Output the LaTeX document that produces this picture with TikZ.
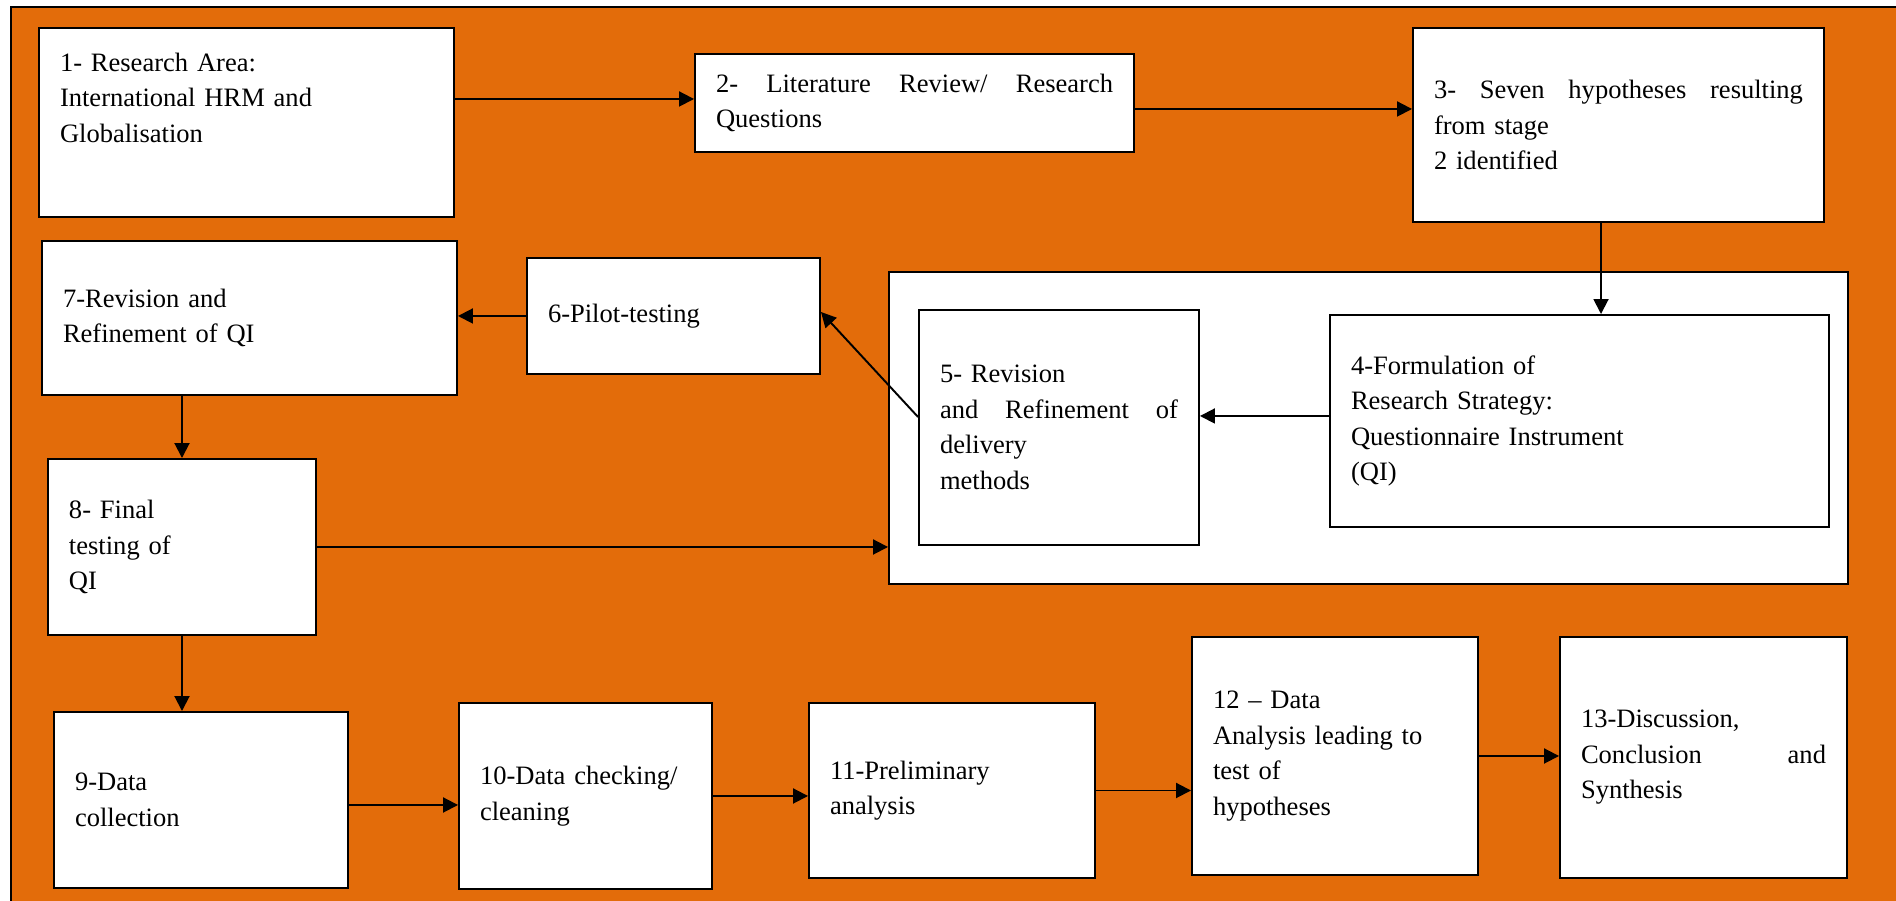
\documentclass[tikz,border=0pt]{standalone}
\usepackage{fontspec}
\setmainfont{Liberation Serif}
\usetikzlibrary{arrows.meta}
\definecolor{stageorange}{HTML}{E36C0A}
\tikzset{
  stage/.style={draw, fill=white, line width=1.1pt, inner xsep=0.42cm, inner ysep=0.1cm,
    align=left, font=\rmfamily\fontsize{15.1}{20.2}\selectfont},
  flow/.style={-{Triangle[length=0.3cm,width=0.3cm]}, line width=1.1pt}
}
\begin{document}
\begin{tikzpicture}
\useasboundingbox (0,0) rectangle (37.92,18.02);
\fill[stageorange] (0.22,0) rectangle (37.92,17.88);
\draw[line width=1.2pt] (0.22,0) -- (0.22,17.88) -- (37.92,17.88);

% top row
\node[stage, text width=7.46cm, minimum height=3.78cm] (n1) at (4.93,15.57)
  {1- Research Area:\\International HRM and\\Globalisation\\[0.29cm]\mbox{}};
\node[stage, text width=7.94cm, minimum height=1.96cm] (n2) at (18.29,15.96)
  {2-\hfill Literature\hfill Review/\hfill Research\\Questions};
\node[stage, text width=7.38cm, minimum height=3.88cm] (n3) at (32.37,15.52)
  {3-\hfill Seven\hfill hypotheses\hfill resulting\\from stage\\2 identified};

% research strategy block
\node[draw, fill=white, line width=1.1pt, minimum width=19.18cm, minimum height=6.24cm] (strategy) at (27.37,9.46) {};
\node[stage, text width=9.14cm, minimum height=4.24cm] (n4) at (31.59,9.60)
  {4-Formulation of\\Research Strategy:\\Questionnaire Instrument\\(QI)};
\node[stage, text width=4.76cm, minimum height=4.70cm] (n5) at (21.18,9.47)
  {5- Revision\\and\hfill Refinement\hfill of\\delivery\\methods};
\node[stage, text width=5.02cm, minimum height=2.32cm] (n6) at (13.47,11.70)
  {6-Pilot-testing};
\node[stage, text width=7.46cm, minimum height=3.08cm] (n7) at (4.99,11.66)
  {7-Revision and\\Refinement of QI};
\node[stage, text width=4.52cm, minimum height=3.52cm] (n8) at (3.64,7.08)
  {8- Final\\testing of\\QI};

% bottom row
\node[stage, text width=5.04cm, minimum height=3.52cm] (n9) at (4.02,2.02)
  {9-Data\\collection};
\node[stage, text width=4.22cm, minimum height=3.72cm] (n10) at (11.71,2.10)
  {10-Data checking/\\cleaning};
\node[stage, text width=4.88cm, minimum height=3.50cm] (n11) at (19.04,2.21)
  {11-Preliminary\\analysis};
\node[stage, text width=4.88cm, minimum height=4.76cm] (n12) at (26.70,2.90)
  {12 – Data\\Analysis leading to\\test of\\hypotheses};
\node[stage, text width=4.90cm, minimum height=4.82cm] (n13) at (34.07,2.87)
  {13-Discussion,\\Conclusion\hfill and\\Synthesis};

% connectors
\coordinate (a12) at ([yshift=0.08cm]n2.west);
\draw[flow] (a12 -| n1.east) -- (a12);
\coordinate (a23) at ([yshift=-0.12cm]n2.east);
\draw[flow] (a23) -- (a23 -| n3.west);
\coordinate (a34) at ([xshift=-0.35cm]n3.south);
\draw[flow] (a34) -- (a34 |- n4.north);
\coordinate (a45) at ([yshift=0.1cm]n4.west);
\draw[flow] (a45) -- (a45 -| n5.east);
\draw[flow] ([yshift=0.21cm]n5.west) -- ([yshift=0.08cm]n6.east);
\draw[flow] (n6.west) -- (n6.west -| n7.east);
\draw[flow] (n8.north |- n7.south) -- (n8.north);
\draw[flow] (n8.east) -- (n8.east -| strategy.west);
\draw[flow] (n8.south) -- (n8.south |- n9.north);
\coordinate (a910) at ([yshift=-0.1cm]n9.east);
\draw[flow] (a910) -- (a910 -| n10.west);
\draw[flow] (n10.east) -- (n10.east -| n11.west);
\draw[flow] (n11.east) -- (n11.east -| n12.west);
\draw[flow] (n12.east) -- (n12.east -| n13.west);
\end{tikzpicture}
\end{document}
